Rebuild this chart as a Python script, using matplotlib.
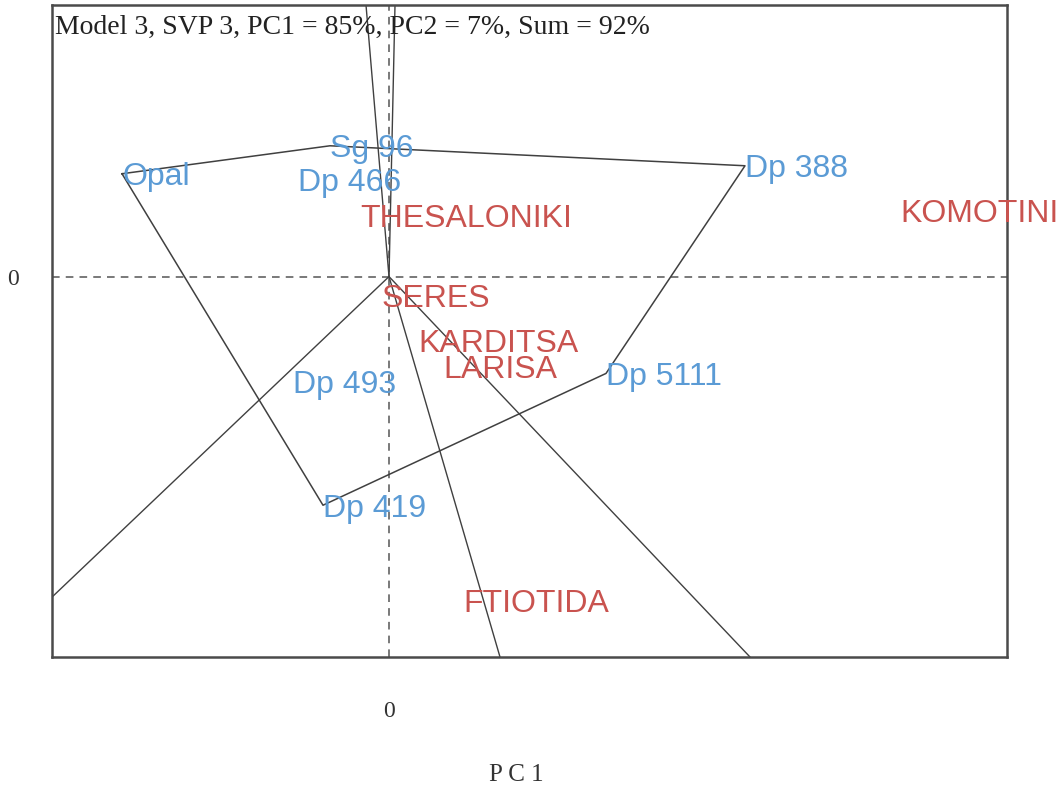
import matplotlib
matplotlib.use("Agg")
import matplotlib.pyplot as plt

# GGE biplot scores (PC1, PC2)
genotypes = ["Opal", "Sg 96", "Dp 466", "Dp 388", "Dp 493", "Dp 5111", "Dp 419"]
geno_pc1 = [-2.67, -0.59, -0.91, 3.56, -0.96, 2.17, -0.66]
geno_pc2 = [1.03, 1.31, 0.97, 1.11, -1.05, -0.97, -2.29]

environments = ["THESALONIKI", "KOMOTINI", "SERES", "KARDITSA", "LARISA", "FTIOTIDA"]
env_pc1 = [-0.29, 5.11, -0.07, 0.29, 0.54, 0.74]
env_pc2 = [0.61, 0.66, -0.19, -0.64, -0.90, -3.24]

# polygon of the vertex genotypes
hull = ["Opal", "Sg 96", "Dp 388", "Dp 5111", "Dp 419"]

# rays from the origin, end points at the plot border
ray_pc1_end = [-0.23, 0.06, -3.37, 1.11, 3.61]
ray_pc2_end = [2.72, 2.72, -3.21, -3.81, -3.81]

TITLE = "Model 3, SVP 3, PC1 = 85%, PC2 = 7%, Sum = 92%"
XLIM = (-3.37, 6.18)
YLIM = (-3.81, 2.72)

BLUE = "#5b9bd5"
RED = "#c9534f"
LINE = "#404040"

fig = plt.figure(figsize=(10.63, 7.94), dpi=100)
ax = fig.add_axes([52 / 1063, 1 - 657 / 794, 955 / 1063, 652 / 794])
ax.set_xlim(*XLIM)
ax.set_ylim(*YLIM)

# dashed axes through the origin
ax.axhline(0, color="#555555", lw=1.1, ls=(0, (5, 4)), zorder=1)
ax.axvline(0, color="#555555", lw=1.1, ls=(0, (5, 4)), zorder=1)

# polygon
idx = [genotypes.index(g) for g in hull] + [genotypes.index(hull[0])]
ax.plot([geno_pc1[i] for i in idx], [geno_pc2[i] for i in idx],
        color=LINE, lw=1.1, zorder=2)

# rays
for xe, ye in zip(ray_pc1_end, ray_pc2_end):
    ax.plot([0, xe], [0, ye], color=LINE, lw=1.0, zorder=2)

lab_font = dict(family="Liberation Sans", fontsize=23, ha="left", va="center_baseline")
for name, x, y in zip(genotypes, geno_pc1, geno_pc2):
    ax.text(x, y, name, color=BLUE, zorder=3, **lab_font)
for name, x, y in zip(environments, env_pc1, env_pc2):
    ax.text(x, y, name, color=RED, zorder=3, clip_on=False, **lab_font)

ax.text(0.003, 0.966, TITLE, transform=ax.transAxes, ha="left", va="center",
        family="Liberation Serif", fontsize=20, color="#222222")

ax.set_xticks([0])
ax.set_yticks([0])
ax.tick_params(length=0, labelsize=17, colors="#333333")
ax.tick_params(axis="x", pad=32)
ax.tick_params(axis="y", pad=24)
for lab in ax.get_xticklabels() + ax.get_yticklabels():
    lab.set_family("Liberation Serif")

for sp in ax.spines.values():
    sp.set_color("#4a4a4a")
    sp.set_linewidth(1.8)

fig.text(516 / 1063, 1 - 775 / 794, "P C 1", ha="center", va="center",
         family="Liberation Serif", fontsize=18, color="#333333")

fig.savefig("out.png", dpi=100)
